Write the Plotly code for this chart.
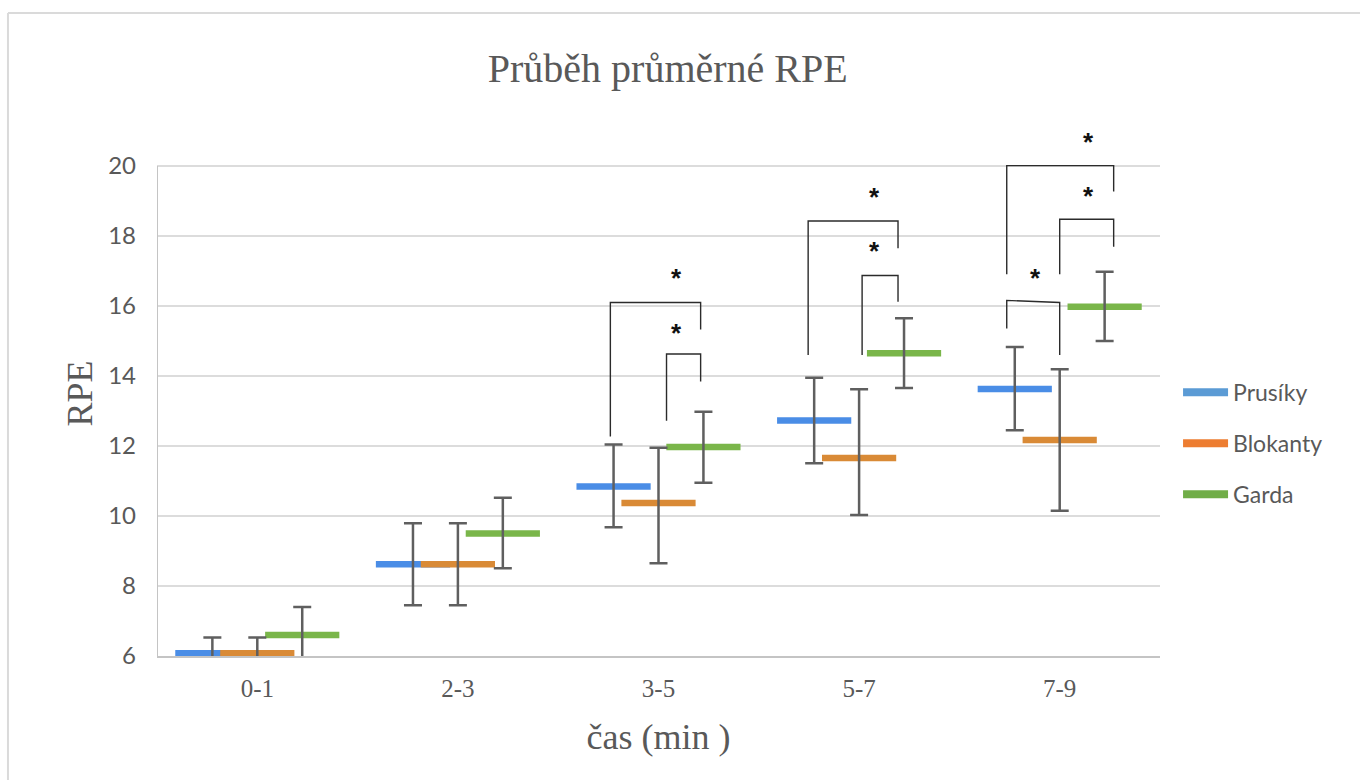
import plotly.graph_objects as go

# ---------------- data ----------------
categories = ["0-1", "2-3", "3-5", "5-7", "7-9"]
series_names = ["Prusíky", "Blokanty", "Garda"]
y_ticks = [6, 8, 10, 12, 14, 16, 18, 20]

prusiky_mean = [6.08, 8.62, 10.84, 12.73, 13.63]
prusiky_plus = [0.45, 1.17, 1.20, 1.22, 1.20]
prusiky_minus = [0.45, 1.17, 1.16, 1.22, 1.18]

blokanty_mean = [6.08, 8.62, 10.37, 11.66, 12.17]
blokanty_plus = [0.45, 1.17, 1.58, 1.96, 2.02]
blokanty_minus = [0.45, 1.17, 1.72, 1.63, 2.02]

garda_mean = [6.60, 9.50, 11.97, 14.65, 15.98]
garda_plus = [0.80, 1.02, 1.01, 1.00, 1.00]
garda_minus = [0.80, 0.99, 1.02, 0.99, 0.98]

# significance brackets: group index, left x-offset, right x-offset,
# left leg bottom, top (left end), top (right end), right leg bottom (RPE units)
bracket_group = [2, 2, 3, 3, 4, 4, 4]
bracket_xl = [-0.24, 0.04, -0.254, 0.015, -0.264, 0.0, -0.264]
bracket_xr = [0.21, 0.21, 0.194, 0.194, 0.269, 0.269, 0.0]
bracket_yl = [12.27, 12.72, 14.60, 14.60, 16.91, 16.91, 15.36]
bracket_top_l = [16.10, 14.63, 18.43, 16.87, 20.01, 18.48, 16.16]
bracket_top_r = [16.10, 14.63, 18.43, 16.87, 20.01, 18.48, 16.10]
bracket_yr = [15.33, 13.84, 17.65, 16.12, 19.27, 17.69, 14.60]

# star positions: group index, x-offset, y
star_group = [2, 2, 3, 3, 4, 4, 4]
star_dx = [0.09, 0.09, 0.075, 0.075, 0.145, 0.145, -0.12]
star_y = [16.93, 15.38, 19.27, 17.71, 20.82, 19.29, 16.95]

# ---------------- style ----------------
marker_colors = ["#4a8de6", "#d98a36", "#7ab64a"]
legend_colors = ["#5b9bd5", "#ed7d31", "#70ad47"]
offsets = [-0.224, 0.0, 0.224]
err_color = "#5f5f5f"
text_gray = "#595959"

means = [prusiky_mean, blokanty_mean, garda_mean]
pluses = [prusiky_plus, blokanty_plus, garda_plus]
minuses = [prusiky_minus, blokanty_minus, garda_minus]

fig = go.Figure()

for k in range(3):
    xs = [i + offsets[k] for i in range(len(categories))]
    # colored horizontal mean markers
    fig.add_trace(go.Scatter(
        x=xs, y=means[k], mode="markers", showlegend=False, hoverinfo="skip",
        marker=dict(symbol="line-ew", size=53, color=marker_colors[k],
                    line=dict(color=marker_colors[k], width=6.5)),
    ))
for k in range(3):
    xs = [i + offsets[k] for i in range(len(categories))]
    # error bars drawn on top
    fig.add_trace(go.Scatter(
        x=xs, y=means[k], mode="markers", showlegend=False, hoverinfo="skip",
        marker=dict(size=1, color="rgba(0,0,0,0)"),
        error_y=dict(type="data", symmetric=False, array=pluses[k],
                     arrayminus=minuses[k], color=err_color,
                     thickness=2.5, width=9),
    ))

# legend-only traces
for k in range(3):
    fig.add_trace(go.Scatter(
        x=[None], y=[None], mode="lines", name=series_names[k],
        legendgroup=series_names[k],
        line=dict(color=legend_colors[k], width=8),
    ))

# significance brackets
for g, xl, xr, yl, ytl, ytr, yr in zip(bracket_group, bracket_xl, bracket_xr,
                                       bracket_yl, bracket_top_l, bracket_top_r,
                                       bracket_yr):
    fig.add_trace(go.Scatter(
        x=[g + xl, g + xl, g + xr, g + xr], y=[yl, ytl, ytr, yr],
        mode="lines", showlegend=False, hoverinfo="skip",
        line=dict(color="#2b2b2b", width=1.4),
    ))

for g, dx, y in zip(star_group, star_dx, star_y):
    fig.add_annotation(x=g + dx, y=y, xref="x", yref="y", text="<b>*</b>",
                       showarrow=False, yshift=-5,
                       font=dict(family="Liberation Sans", size=26, color="#111111"))

# y axis line only up to the last tick
fig.add_shape(type="line", xref="x", yref="y", x0=-0.5, x1=-0.5,
              y0=y_ticks[0], y1=y_ticks[-1], line=dict(color="#c4c4c4", width=2))

# outer chart border (top and left edges)
fig.add_shape(type="line", xref="paper", yref="paper", x0=-0.1486, x1=1.4,
              y0=1.2248, y1=1.2248, line=dict(color="#dadada", width=2))
fig.add_shape(type="line", xref="paper", yref="paper", x0=-0.1486, x1=-0.1486,
              y0=1.2248, y1=-0.4, line=dict(color="#dadada", width=2))

fig.update_layout(
    width=1360, height=780,
    margin=dict(l=157, r=200, t=131, b=124),
    paper_bgcolor="white", plot_bgcolor="white",
    title=dict(text="Průběh průměrné RPE", x=0.491, xref="container",
               y=1 - 68 / 780, yref="container", xanchor="center", yanchor="middle",
               font=dict(family="Liberation Serif", size=40, color=text_gray)),
    xaxis=dict(range=[-0.5, 4.5], tickmode="array",
               tickvals=list(range(len(categories))), ticktext=categories,
               showgrid=False, zeroline=False, showline=True,
               linecolor="#c4c4c4", linewidth=2, ticks="",
               ticklabelstandoff=9,
               tickfont=dict(family="Liberation Serif", size=25, color=text_gray),
               title=dict(text="čas (min )", standoff=23,
                          font=dict(family="Liberation Serif", size=36, color=text_gray))),
    yaxis=dict(range=[6, 21], tickmode="array", tickvals=y_ticks,
               showgrid=True, gridcolor="#dcdcdc", gridwidth=2, zeroline=False,
               showline=False, ticks="",
               ticklabelstandoff=20,
               tickfont=dict(family="Lato", size=24, color=text_gray),
               title=dict(text="RPE", standoff=4,
                          font=dict(family="Liberation Serif", size=36, color=text_gray))),
    legend=dict(x=1.018, y=0.405, xanchor="left", yanchor="middle",
                font=dict(family="Lato", size=23, color=text_gray),
                tracegroupgap=18, itemwidth=45, bgcolor="rgba(0,0,0,0)"),
    showlegend=True,
)

fig.write_html("out.html")
